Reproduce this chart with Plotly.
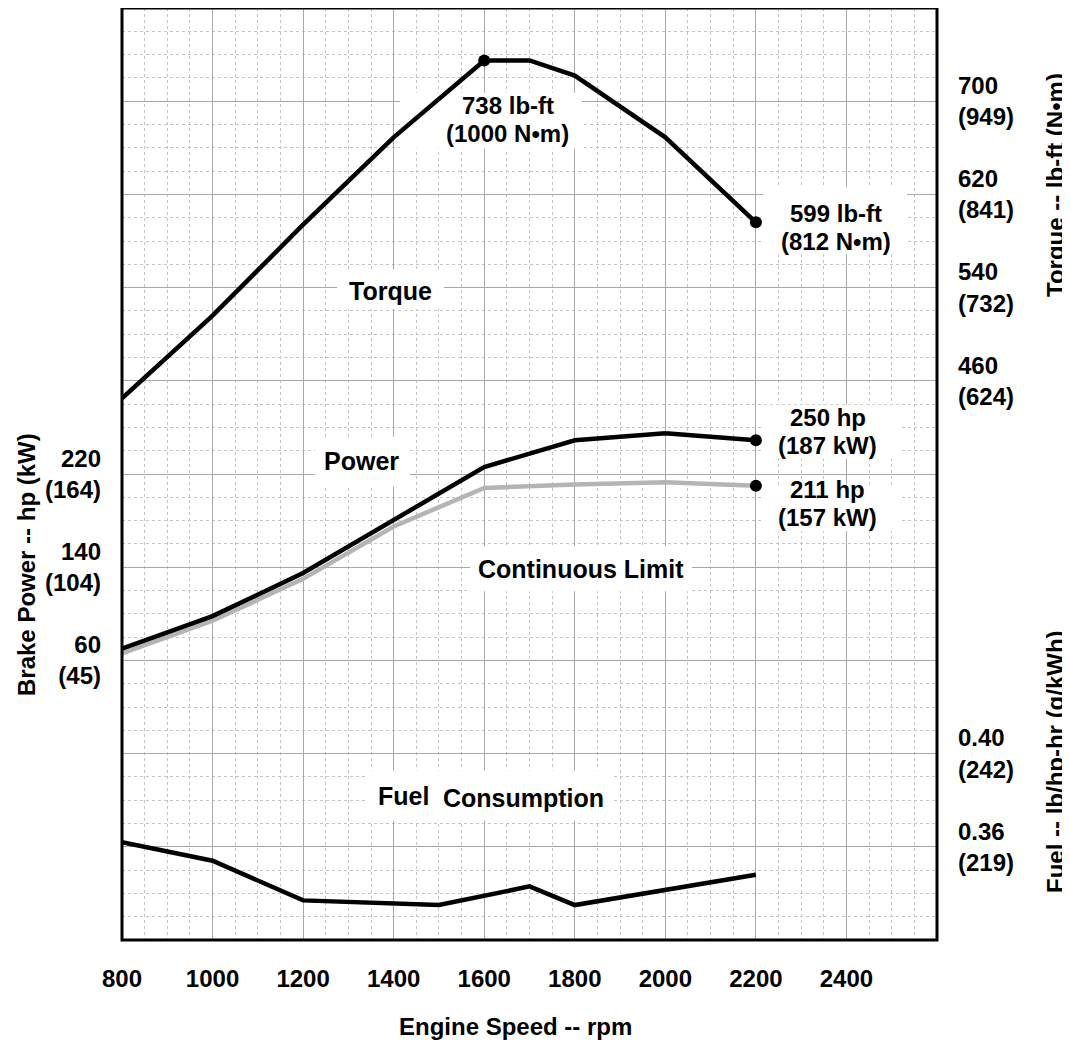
import plotly.graph_objects as go

# ---------------- data ----------------
torque_rpm = [800, 1000, 1200, 1400, 1600, 1700, 1800, 2000, 2200]
torque_lbft = [445, 516, 594, 669, 735, 735, 722, 669, 596]

power_rpm = [800, 1000, 1200, 1400, 1600, 1800, 2000, 2200]
power_hp = [70, 98, 135, 180, 226, 249, 255, 249]
cont_hp = [66, 94, 130, 175, 208, 211, 213, 210]

fuel_rpm = [800, 1000, 1200, 1500, 1700, 1800, 2200]
fuel_lb_hphr = [0.362, 0.354, 0.337, 0.335, 0.343, 0.335, 0.348]

x_ticks = [800, 1000, 1200, 1400, 1600, 1800, 2000, 2200, 2400]
power_ticks = [60, 140, 220]
power_kw = [45, 104, 164]
torque_ticks = [460, 540, 620, 700]
torque_nm = [624, 732, 841, 949]
fuel_ticks = [0.36, 0.40]
fuel_gkwh = [219, 242]

# ---------------- styling ----------------
FONT = "Liberation Sans, Arial, Helvetica, sans-serif"
FS = 24
FSL = 25
FS2 = 24
LW = 4.5
MAJOR = "#a8a8a8"
MINOR = "#c4c4c4"
GREY_LINE = "#b4b4b4"

# page offset (browser body margin) compensation
OX, OY = 8, 8
W, H = 1070 - OX, 1040 - OY
PL, PR, PT, PB = 122 - OX, 937 - OX, 0, 940 - OY  # plot box in figure px

fig = go.Figure()

fig.add_trace(go.Scatter(x=power_rpm, y=cont_hp, yaxis="y2", mode="lines",
                         line=dict(color=GREY_LINE, width=LW), hoverinfo="skip"))
fig.add_trace(go.Scatter(x=power_rpm, y=power_hp, yaxis="y2", mode="lines",
                         line=dict(color="black", width=LW), hoverinfo="skip"))
fig.add_trace(go.Scatter(x=torque_rpm, y=torque_lbft, yaxis="y3", mode="lines",
                         line=dict(color="black", width=LW), hoverinfo="skip"))
fig.add_trace(go.Scatter(x=fuel_rpm, y=fuel_lb_hphr, yaxis="y4", mode="lines",
                         line=dict(color="black", width=LW), hoverinfo="skip"))
fig.add_trace(go.Scatter(x=[torque_rpm[4], torque_rpm[-1]], y=[torque_lbft[4], torque_lbft[-1]],
                         yaxis="y3", mode="markers", marker=dict(color="black", size=12),
                         hoverinfo="skip"))
fig.add_trace(go.Scatter(x=[power_rpm[-1], power_rpm[-1]], y=[power_hp[-1], cont_hp[-1]],
                         yaxis="y2", mode="markers", marker=dict(color="black", size=12),
                         hoverinfo="skip"))

# ---------------- labels inside the plot ----------------
labels = [
    (["738 lb-ft", "(1000 N\u2022m)"], 1652, 8.80, (1414, 1816, 8.492, 9.091)),
    (["599 lb-ft", "(812 N\u2022m)"], 2377, 7.647, (2216, 2534, 7.358, 8.075)),
    (["Torque"], 1392, 6.963, (1275, 1511, 6.770, 7.198)),
    (["Power"], 1330, 5.144, (1226, 1436, 4.866, 5.401)),
    (["250 hp", "(187 kW)"], 2359, 5.455, (2213, 2518, 5.166, 5.743)),
    (["211 hp", "(157 kW)"], 2359, 4.684, (2213, 2518, 4.385, 4.888)),
    (["Continuous Limit"], 1814, 3.979, (1569, 2059, 3.743, 4.225)),
    (["Fuel"], 1421, 1.54, (1337, 1470, 1.283, 1.818)),
    (["Consumption"], 1686, 1.519, (1470, 1884, 1.283, 1.818)),
]
LINE_GAP = 28

annotations = []
shapes = []
for lines, lx, ly, (x0, x1, y0, y1) in labels:
    n = len(lines)
    size = FSL if n == 1 else FS2
    for i, text in enumerate(lines):
        annotations.append(dict(text=text, x=lx, y=ly, xref="x", yref="y", showarrow=False,
                                yshift=((n - 1) / 2 - i) * LINE_GAP,
                                font=dict(family=FONT, size=size, color="black", weight="bold"),
                                xanchor="center", yanchor="middle"))
    shapes.append(dict(type="rect", xref="x", yref="y", x0=x0, x1=x1, y0=y0, y1=y1,
                       fillcolor="white", line=dict(width=0), layer="between"))


def px2paper(px, py):
    # reference-image pixels -> paper coordinates
    return ((px - OX) - PL) / (PR - PL), (PB - (py - OY)) / (PB - PT)


def title(text, px, py, angle=0):
    x, y = px2paper(px, py)
    return dict(text=text, xref="paper", yref="paper", x=x, y=y, textangle=angle,
                showarrow=False, xanchor="center", yanchor="middle",
                font=dict(family=FONT, size=FS, color="black", weight="bold"))


annotations += [
    title("Brake Power -- hp (kW)", 27, 565, -90),
    title("Torque -- lb-ft (N\u2022m)", 1055, 185, -90),
    title("Fuel -- lb/hp-hr (g/kWh)", 1055, 762, -90),
    title("Engine Speed -- rpm", 515, 1026),
]

shapes.append(dict(type="rect", xref="paper", yref="paper", x0=0, x1=1, y0=0, y1=1,
                   line=dict(color="black", width=3), layer="above"))

tickfont = dict(family=FONT, size=FS, color="black", weight="bold")

fig.update_layout(
    width=W, height=H,
    margin=dict(l=PL, r=W - PR, t=PT, b=H - PB, pad=0),
    paper_bgcolor="white", plot_bgcolor="white",
    showlegend=False, hovermode=False,
    xaxis=dict(range=[800, 2600], tickmode="array", tickvals=x_ticks,
               ticktext=[str(v) for v in x_ticks], tickfont=tickfont,
               showgrid=True, gridcolor=MAJOR, gridwidth=1,
               minor=dict(tick0=800, dtick=50, showgrid=True, gridcolor=MINOR,
                          griddash="dot", gridwidth=1, ticks=""),
               zeroline=False, showline=False, ticks="", ticklabelstandoff=22,
               fixedrange=True),
    yaxis=dict(range=[0, 10], tick0=0, dtick=1, showticklabels=False,
               showgrid=True, gridcolor=MAJOR, gridwidth=1,
               minor=dict(tick0=0, dtick=0.25, showgrid=True, gridcolor=MINOR,
                          griddash="dot", gridwidth=1, ticks=""),
               zeroline=False, showline=False, ticks="", fixedrange=True),
    yaxis2=dict(range=[-180, 620], overlaying="y", side="left", anchor="x",
                tickmode="array", tickvals=power_ticks,
                ticktext=[f"{h}<br>({k})" for h, k in zip(power_ticks, power_kw)],
                tickfont=tickfont, showgrid=False, zeroline=False, ticks="",
                ticklabelstandoff=20, fixedrange=True),
    yaxis3=dict(range=[-20, 780], overlaying="y", side="right", anchor="x",
                tickmode="array", tickvals=torque_ticks,
                ticktext=[f"{t}<br>({n})" for t, n in zip(torque_ticks, torque_nm)],
                tickfont=tickfont, showgrid=False, zeroline=False, ticks="",
                ticklabelstandoff=20, fixedrange=True),
    yaxis4=dict(range=[0.32, 0.72], overlaying="y", side="right", anchor="x",
                tickmode="array", tickvals=fuel_ticks,
                ticktext=[f"{f:.2f}<br>({g})" for f, g in zip(fuel_ticks, fuel_gkwh)],
                tickfont=tickfont, showgrid=False, zeroline=False, ticks="",
                ticklabelstandoff=20, fixedrange=True),
    annotations=annotations,
    shapes=shapes,
)

fig.write_html("out.html", config={"displayModeBar": False})
